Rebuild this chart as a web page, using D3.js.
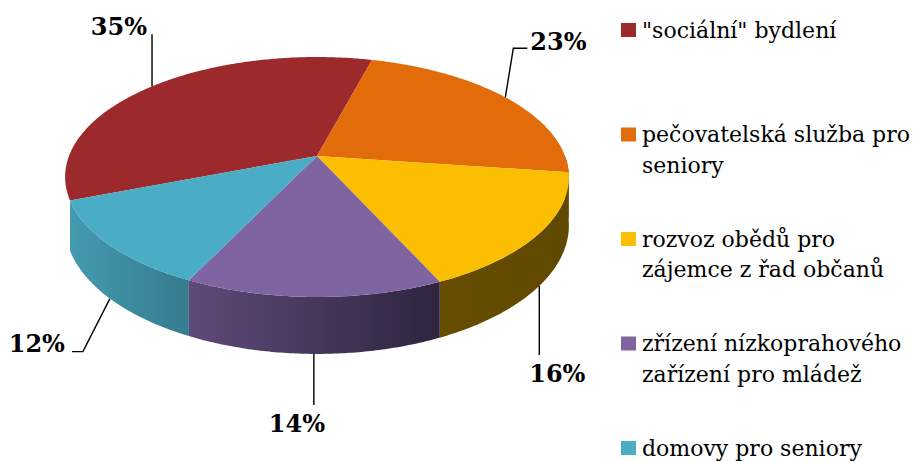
<!DOCTYPE html>
<html>
<head>
<meta charset="utf-8">
<script src="https://cdn.jsdelivr.net/npm/d3@7"></script>
<style>
  body { margin: 0; background: #fff; }
  svg { display: block; }
  .label { font-family: 'DejaVu Serif', serif; font-weight: bold; font-size: 24px; fill: #000; }
  .legend text { font-family: 'DejaVu Serif', serif; font-size: 22px; fill: #000; }
</style>
</head>
<body>
<svg width="915" height="462"></svg>
<script>
// data
const categories = [
  ['"sociální" bydlení'],
  ['pečovatelská služba pro', 'seniory'],
  ['rozvoz obědů pro', 'zájemce z řad občanů'],
  ['zřízení nízkoprahového', 'zařízení pro mládež'],
  ['domovy pro seniory']
];
const values = [35, 23, 16, 14, 12];
const valueLabels = ['35%', '23%', '16%', '14%', '12%'];

// styles
const topColors = ['#9c2a2c', '#e36c0a', '#fbbe00', '#8064a2', '#4bacc6'];
const wallColors = [
  ['#7e2224', '#6a1c1e'],
  ['#b55508', '#9a4807'],
  ['#664d00', '#5f4800'],
  ['#5e4a78', '#2f253f'],
  ['#449ab0', '#357c8f']
];

const svg = d3.select('svg');
const defs = svg.append('defs');

// perspective settings for the 3d pie
const cx = 317, cy = 156;
const sx = 248, sy = 116.3;
const k = 0.175;      // perspective strength
const depth = 47;     // thickness

const proj = (a, h) => {
  const u = Math.sin(a), v = -Math.cos(a);
  const w = 1 - k * v;
  return [cx + sx * u / w, cy + (sy * v + depth * h) / w];
};

const startAngle = -111 * Math.PI / 180;
const pie = d3.pie().sort(null).value(d => d)
  .startAngle(startAngle).endAngle(startAngle + 2 * Math.PI);
const arcs = pie(values);

const line = d3.line();
const sample = (a0, a1, h) => {
  const n = Math.max(2, Math.ceil(Math.abs(a1 - a0) / 0.01));
  return d3.range(n + 1).map(i => proj(a0 + (a1 - a0) * i / n, h));
};

const g = svg.append('g');

// walls (only the front half is visible)
const frontStart = Math.PI / 2, frontEnd = 3 * Math.PI / 2;
arcs.forEach((d, i) => {
  const a0 = Math.max(d.startAngle, frontStart);
  const a1 = Math.min(d.endAngle, frontEnd);
  if (a1 <= a0) return;
  const topPts = sample(a0, a1, 0);
  const botPts = sample(a0, a1, 1).reverse();
  const xs = topPts.map(p => p[0]);
  const grad = defs.append('linearGradient')
    .attr('id', 'wall' + i)
    .attr('gradientUnits', 'userSpaceOnUse')
    .attr('x1', d3.min(xs)).attr('x2', d3.max(xs))
    .attr('y1', 0).attr('y2', 0);
  grad.append('stop').attr('offset', 0).attr('stop-color', wallColors[i][0]);
  grad.append('stop').attr('offset', 1).attr('stop-color', wallColors[i][1]);
  g.append('path')
    .attr('d', line(topPts.concat(botPts)) + 'Z')
    .attr('fill', `url(#wall${i})`);
});

// top faces
g.selectAll('path.top')
  .data(arcs)
  .enter()
  .append('path')
    .attr('class', 'top')
    .attr('d', d => line([[cx, cy]].concat(sample(d.startAngle, d.endAngle, 0))) + 'Z')
    .attr('fill', (d, i) => topColors[i]);

// data labels with leader lines (offsets from slice anchor)
const labelLayout = [
  {rim: 0, pts: [[0, 0], [0, -52]], text: [-5, -51], anchor: 'end'},
  {rim: 0, pts: [[0, 0], [8, -49], [22, -49]], text: [25, -47], anchor: 'start'},
  {rim: 1, pts: [[0, 0], [0, 69]], text: [18, 96], anchor: 'middle'},
  {rim: 1, pts: [[0, 0], [0, 51]], text: [-17, 78], anchor: 'middle'},
  {rim: 1, pts: [[0, 0], [-27, 53], [-38, 53]], text: [-45, 53.5], anchor: 'end'}
];

arcs.forEach((d, i) => {
  const lay = labelLayout[i];
  const mid = (d.startAngle + d.endAngle) / 2;
  const [ax, ay] = proj(mid, lay.rim);
  svg.append('path')
    .attr('d', line(lay.pts.map(p => [ax + p[0], ay + p[1]])))
    .attr('fill', 'none')
    .attr('stroke', '#000')
    .attr('stroke-width', 1.4);
  svg.append('text')
    .attr('class', 'label')
    .attr('x', ax + lay.text[0])
    .attr('y', ay + lay.text[1])
    .attr('text-anchor', lay.anchor)
    .text(valueLabels[i]);
});

// legend
const legendY = d3.scalePoint()
  .domain(d3.range(categories.length))
  .range([23, 441]);

const legend = svg.append('g').attr('class', 'legend');
categories.forEach((lines, i) => {
  const y = legendY(i);
  legend.append('rect')
    .attr('x', 621).attr('y', y)
    .attr('width', 15).attr('height', 14)
    .attr('fill', topColors[i]);
  const t = legend.append('text').attr('x', 642).attr('y', y + 14.5);
  lines.forEach((s, j) => {
    t.append('tspan')
      .attr('x', 642)
      .attr('dy', j === 0 ? 0 : 30.5)
      .text(s);
  });
});
</script>
</body>
</html>
